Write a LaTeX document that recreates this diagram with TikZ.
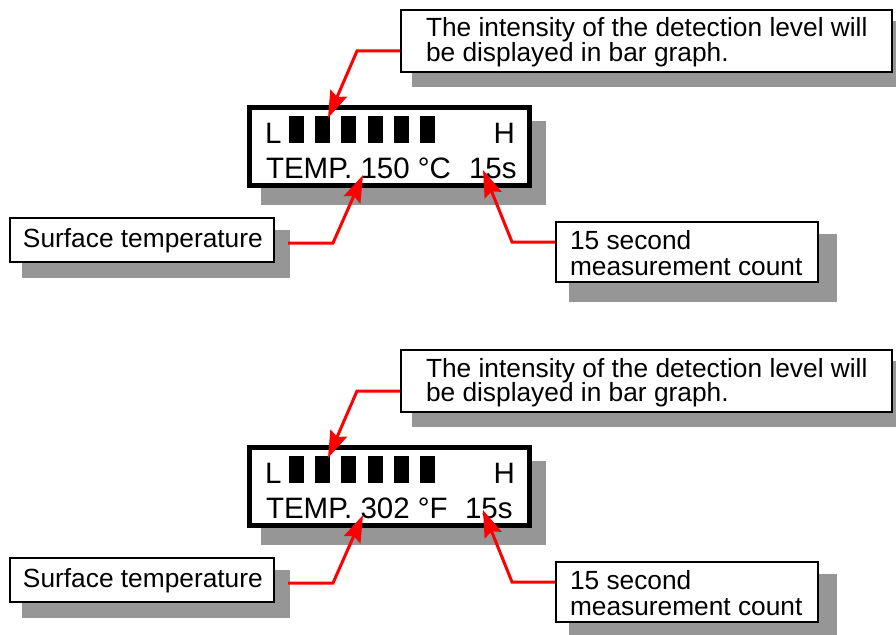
\documentclass[tikz,border=0pt]{standalone}
\usepackage{fontspec}
\setmainfont{Liberation Sans}
\usetikzlibrary{arrows.meta}
\definecolor{shadowgray}{RGB}{150,150,150}
\tikzset{
  shadowbox/.style={fill=shadowgray, draw=none},
  calloutbox/.style={rectangle, draw=black, line width=2pt, fill=white, inner sep=0pt},
  displaybox/.style={rectangle, draw=black, line width=5pt, fill=white, inner sep=0pt},
  levelbar/.style={rectangle, fill=black, draw=none, minimum width=15pt, minimum height=27pt, inner sep=0pt, outer sep=0pt, anchor=north west},
  calltext/.style={font=\fontsize{26.3}{24}\selectfont, inner sep=0pt, outer sep=0pt, anchor=base west},
  disptext/.style={font=\fontsize{29.5}{30}\selectfont, inner sep=0pt, outer sep=0pt, anchor=base west},
  conn/.style={draw=red, line width=3pt, line join=miter, -{Stealth[length=27pt,width=18pt,inset=4pt]}}
}
% #1 y offset, #2 name prefix, #3 temperature text, #4 x of "15s"
\newcommand\drawpanel[4]{%
\begin{scope}[shift={(0,#1)}]
  % shadows
  \fill[shadowbox] (412,21) rectangle (905,87);
  \fill[shadowbox] (261,121) rectangle (546,205);
  \fill[shadowbox] (22,230) rectangle (290,278);
  \fill[shadowbox] (569,234) rectangle (837,302);
  % boxes
  \node[calloutbox, minimum width=491pt, minimum height=62pt] (#2call) at (646.5,41) {};
  \node[displaybox, minimum width=280pt, minimum height=78pt] (#2disp) at (389.5,146.5) {};
  \node[calloutbox, minimum width=264pt, minimum height=44pt] (#2surf) at (142,240) {};
  \node[calloutbox, minimum width=262pt, minimum height=60pt] (#2count) at (687,252) {};
  % callout texts
  \node[calltext] (#2callA) at (426,37) {The intensity of the detection level will};
  \node[calltext] (#2callB) at (426,61) {be displayed in bar graph.};
  \node[calltext] (#2surfT) at (23,247) {Surface temperature};
  \node[calltext] (#2countA) at (570,249) {15 second};
  \node[calltext] (#2countB) at (570,275) {measurement count};
  % display contents
  \node[disptext] (#2L) at (265,143) {L};
  \node[disptext, anchor=base east] (#2H) at (515,143) {H};
  \foreach \i in {0,...,5} {\node[levelbar] (#2bar\i) at ({289+26.2*\i},116) {};}
  \node[disptext] (#2temp) at (266,178) {TEMP. #3};
  \node[disptext] (#2sec) at (#4,178) {15s};
  % arrow tips
  \coordinate (#2tipA) at (328,118);
  \coordinate (#2tipB) at (363,175);
  \coordinate (#2tipC) at (483,170);
  % connectors
  \draw[conn] ([yshift=-10pt]#2call.west) -- ++(-43,0) -- (#2tipA);
  \draw[conn] ([xshift=13pt,yshift=-3pt]#2surf.east) -- ++(45,0) -- (#2tipB);
  \draw[conn] ([yshift=10pt]#2count.west) -- ++(-43,0) -- (#2tipC);
\end{scope}}

\begin{document}
\begin{tikzpicture}[x=1pt, y=-1pt]
  \useasboundingbox (0,0) rectangle (896,634);
  \drawpanel{0}{p}{150 °C}{469}
  \drawpanel{340}{q}{302 °F}{465}
\end{tikzpicture}
\end{document}
